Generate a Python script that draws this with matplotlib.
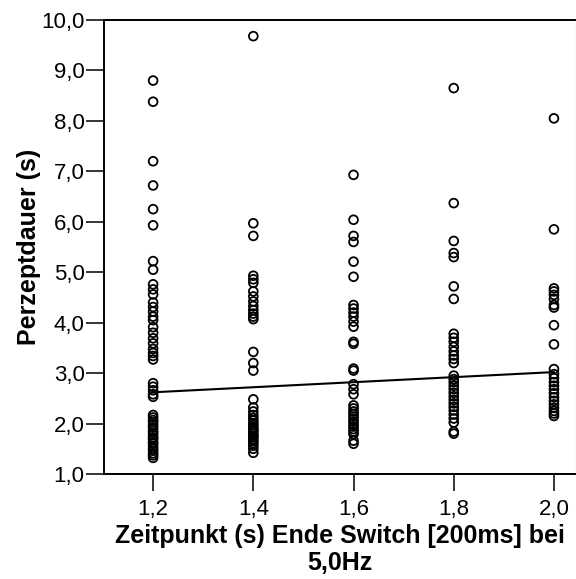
"""
Streudiagramm: Perzeptdauer gegen Zeitpunkt Ende Switch (5,0 Hz), mit Regressionsgerade.
"""
import matplotlib
matplotlib.use("Agg")
from matplotlib import pyplot as plt
from matplotlib.ticker import FuncFormatter

plt.rcParams['font.family'] = ['Liberation Sans', 'DejaVu Sans']

# Perzeptdauer (s) je Zeitpunkt
dauer_12 = [8.8, 8.38, 7.2, 6.72, 6.25, 5.93, 5.22, 5.05, 4.76, 4.66, 4.56, 4.4, 4.31,
            4.22, 4.12, 4.05, 3.91, 3.8, 3.69, 3.59, 3.48, 3.4, 3.34, 3.27, 2.8, 2.73,
            2.66, 2.58, 2.53, 2.17, 2.12, 2.07, 2.03, 1.97, 1.92, 1.86, 1.82, 1.77, 1.72,
            1.69, 1.63, 1.6, 1.55, 1.5, 1.46, 1.41, 1.37, 1.32]
dauer_14 = [9.68, 5.97, 5.72, 4.93, 4.86, 4.79, 4.62, 4.52, 4.42, 4.33, 4.25, 4.18,
            4.12, 4.07, 3.42, 3.2, 3.05, 2.48, 2.32, 2.24, 2.17, 2.11, 2.06, 2.01, 1.97,
            1.92, 1.88, 1.85, 1.8, 1.76, 1.73, 1.69, 1.65, 1.61, 1.56, 1.5, 1.42]
dauer_16 = [6.93, 6.04, 5.72, 5.6, 5.21, 4.91, 4.35, 4.28, 4.2, 4.12, 4.02, 3.92, 3.62,
            3.58, 3.09, 3.05, 2.78, 2.68, 2.58, 2.36, 2.3, 2.24, 2.19, 2.14, 2.09, 2.04,
            1.99, 1.94, 1.89, 1.84, 1.79, 1.66, 1.6]
dauer_18 = [8.65, 6.37, 5.62, 5.38, 5.3, 4.72, 4.47, 3.78, 3.7, 3.62, 3.52, 3.43, 3.35,
            3.28, 3.2, 2.95, 2.88, 2.82, 2.75, 2.68, 2.61, 2.54, 2.47, 2.4, 2.33, 2.26,
            2.18, 2.1, 2.02, 1.84, 1.8]
dauer_20 = [8.05, 5.85, 4.68, 4.62, 4.55, 4.47, 4.35, 4.3, 3.95, 3.57, 3.08, 2.98,
            2.9, 2.82, 2.75, 2.68, 2.6, 2.52, 2.45, 2.38, 2.31, 2.25, 2.2, 2.15]

zeitpunkte = [1.2, 1.4, 1.6, 1.8, 2.0]
dauern = [dauer_12, dauer_14, dauer_16, dauer_18, dauer_20]

# Regressionsgerade (Endpunkte)
fit_x = [1.2, 2.0]
fit_y = [2.62, 3.02]


def komma(v, pos):
    return f"{v:.1f}".replace(".", ",")


fig = plt.figure(figsize=(5.76, 5.79), dpi=100)
ax = fig.add_axes([104 / 576, 105 / 579, 472 / 576, 454 / 579])

for x, werte in zip(zeitpunkte, dauern):
    ax.scatter([x] * len(werte), werte, s=40, facecolors='none',
               edgecolors='black', linewidths=1.3, zorder=3)

ax.plot(fit_x, fit_y, color='black', linewidth=1.5, zorder=4)

ax.set_xlim(1.102, 2.044)
ax.set_ylim(1.0, 10.0)
ax.set_xticks(zeitpunkte)
ax.set_yticks(range(1, 11))
ax.xaxis.set_major_formatter(FuncFormatter(komma))
ax.yaxis.set_major_formatter(FuncFormatter(komma))

for side in ['left', 'top', 'bottom']:
    ax.spines[side].set_linewidth(1.4)
ax.spines['right'].set_color('#bbbbbb')
ax.spines['right'].set_linewidth(0.8)

ax.tick_params(axis='y', length=13, width=1.1, pad=1, labelsize=16)
ax.tick_params(axis='x', length=12, width=1.1, pad=6, labelsize=16)

ax.set_xlabel("Zeitpunkt (s) Ende Switch [200ms] bei\n5,0Hz",
              fontsize=18, fontweight='bold', labelpad=3, linespacing=1.15)
ax.set_ylabel("Perzeptdauer (s)", fontsize=18, fontweight='bold', labelpad=0)

plt.savefig("out.png", dpi=100)
